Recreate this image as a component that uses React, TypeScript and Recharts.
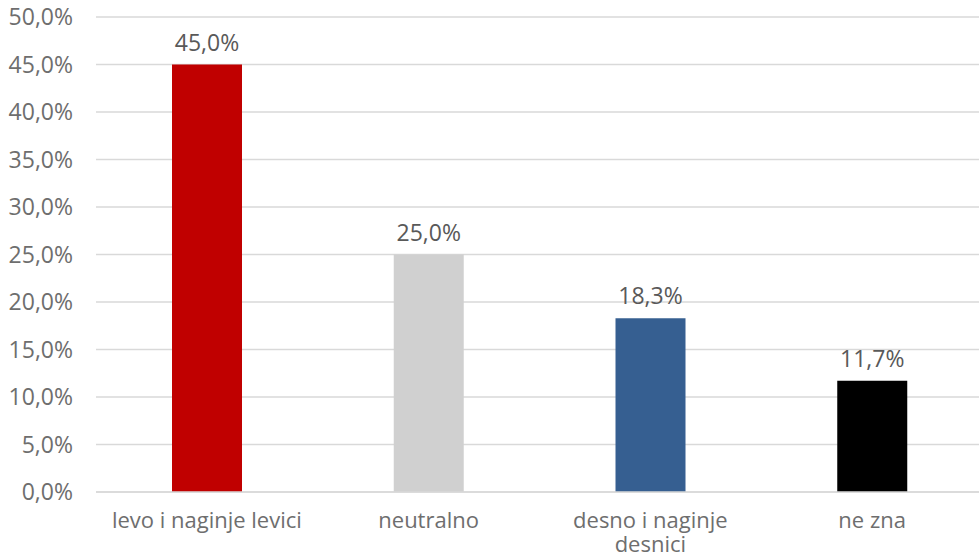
import React from 'react';
import { BarChart, Bar, XAxis, YAxis, CartesianGrid, Cell, LabelList } from 'recharts';

const categories = ['levo i naginje levici', 'neutralno', 'desno i naginje desnici', 'ne zna'];
const values = [45.0, 25.0, 18.3, 11.7];
const colors = ['#C00000', '#D0D0D0', '#365F91', '#000000'];
const yTicks = [0, 5, 10, 15, 20, 25, 30, 35, 40, 45, 50];

const data = categories.map((name, i) => ({ name, value: values[i] }));

const FONT = '"Open Sans", "Noto Sans", sans-serif';
const FS = 23;
const XFS = 22;
const MAX_CHARS = 21;
const fmt = (v: number) => v.toFixed(1).replace('.', ',') + '%';

const wrap = (s: string): string[] => {
  const words = s.split(' ');
  const lines: string[] = [];
  let cur = '';
  for (const w of words) {
    const t = cur ? cur + ' ' + w : w;
    if (t.length > MAX_CHARS && cur) {
      lines.push(cur);
      cur = w;
    } else cur = t;
  }
  if (cur) lines.push(cur);
  return lines;
};

const XTick = (props: any) => {
  const { x, y, payload } = props;
  const lines = wrap(String(payload.value));
  return (
    <text x={x} y={y} textAnchor="middle" fill="#6e6e6e" fontSize={XFS} fontFamily={FONT}>
      {lines.map((l, i) => (
        <tspan key={i} x={x} dy={i === 0 ? '0.85em' : 24}>
          {l}
        </tspan>
      ))}
    </text>
  );
};

export default function App() {
  return (
    <div style={{ position: 'absolute', left: 0, top: 0, width: 979, height: 559, overflow: 'hidden', background: '#fff' }}>
      <BarChart
        width={983}
        height={559}
        data={data}
        margin={{ top: 17, right: 0, bottom: 0, left: 0 }}
        barSize={70}
      >
        <CartesianGrid vertical={false} stroke="#d9d9d9" strokeWidth={1.5} />
        <XAxis
          dataKey="name"
          axisLine={{ stroke: '#d9d9d9', strokeWidth: 1.5 }}
          tickLine={false}
          height={67}
          tick={<XTick />}
          tickMargin={11}
          interval={0}
        />
        <YAxis
          width={96}
          domain={[0, 50]}
          ticks={yTicks}
          axisLine={false}
          tickLine={false}
          tickSize={0}
          tickMargin={23}
          tickFormatter={fmt}
          tick={{ fill: '#6e6e6e', fontSize: FS, fontFamily: FONT }}
          interval={0}
        />
        <Bar dataKey="value" isAnimationActive={false}>
          {data.map((d, i) => (
            <Cell key={d.name} fill={colors[i]} />
          ))}
          <LabelList
            dataKey="value"
            position="top"
            offset={14}
            formatter={(v: any) => fmt(Number(v))}
            fill="#595959"
            fontSize={FS}
            fontFamily={FONT}
          />
        </Bar>
      </BarChart>
    </div>
  );
}
